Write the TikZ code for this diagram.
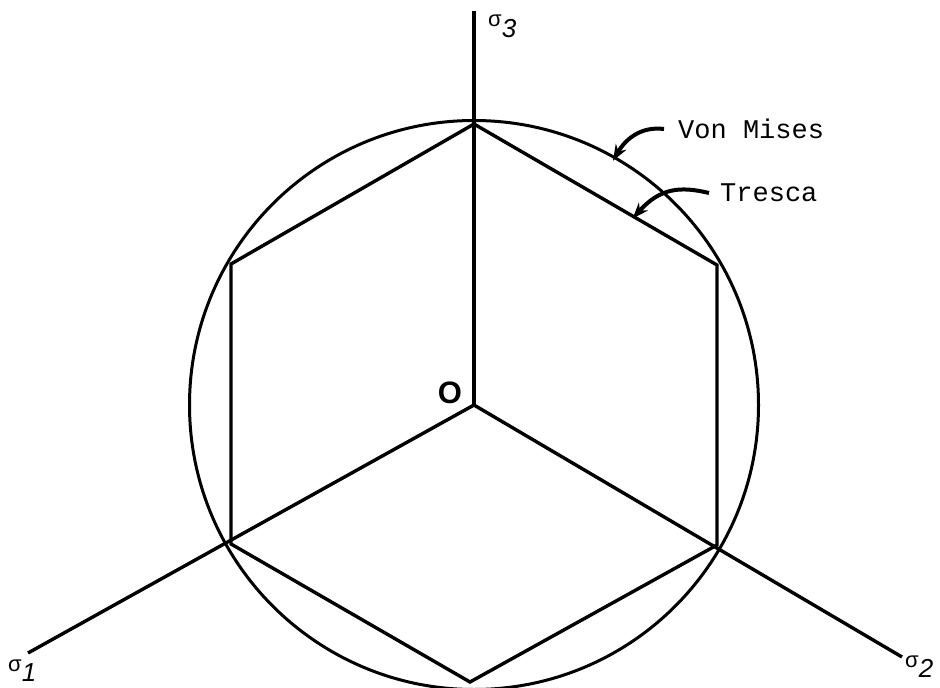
\documentclass[tikz,border=0pt]{standalone}
\usepackage{fontspec}
\setmainfont{Liberation Sans}
\newfontfamily\monofont{Liberation Mono}
\usetikzlibrary{arrows.meta}
\begin{document}
\begin{tikzpicture}[x=1pt,y=-1pt,
  heavy/.style={line width=3.4pt, line join=miter},
  leader/.style={line width=4pt, -{Stealth[length=16pt,width=12pt]}, shorten >=-2pt},
  lbl/.style={inner sep=0pt, font=\monofont\fontsize{27}{27}\selectfont},
  axlbl/.style={inner sep=0pt, font=\fontsize{22}{22}\selectfont}]
\useasboundingbox (0,0) rectangle (940,688);
\coordinate (O) at (474,405);
\coordinate (vT) at (474,124);
\coordinate (vUR) at (717,265);
\coordinate (vLR) at (717,545);
\coordinate (vB) at (470,682);
\coordinate (vLL) at (231,544);
\coordinate (vUL) at (231,264);
\coordinate (e3) at (474,11);
\coordinate (e1) at (28,653);
\coordinate (e2) at (902,657);
% circle
\draw[line width=3pt] (O) circle (284.5);
% hexagon
\draw[heavy] (vT) -- (vUR) -- (vLR) -- (vB) -- (vLL) -- (vUL) -- cycle;
% axes
\draw[heavy] (O) -- (e3);
\draw[heavy] (O) -- (e1);
\draw[heavy] (O) -- (e2);
% labels
\node[inner sep=0pt, font=\bfseries\fontsize{31}{31}\selectfont] (Olbl) at (450,393) {O};
\node[axlbl, anchor=base west] (s3) at (488,27) {σ\raisebox{-10pt}{\itshape\fontsize{26}{26}\selectfont 3}};
\node[axlbl, anchor=base west] (s1) at (8,671) {σ\raisebox{-10pt}{\itshape\fontsize{26}{26}\selectfont 1}};
\node[axlbl, anchor=base west] (s2) at (905,667) {σ\raisebox{-10pt}{\itshape\fontsize{26}{26}\selectfont 2}};
\node[lbl, anchor=west] (vm) at (678,129) {Von Mises};
\node[lbl, anchor=west] (tr) at (720,193) {Tresca};
\coordinate (vmstart) at (664,129);
\coordinate (vmend) at (614,159);
\coordinate (trstart) at (709,193);
\coordinate (trend) at (634,217);
\draw[leader] (vmstart) .. controls (640,126) and (625,140) .. (vmend);
\draw[leader] (trstart) .. controls (680,186) and (660,188) .. (trend);
\end{tikzpicture}
\end{document}
